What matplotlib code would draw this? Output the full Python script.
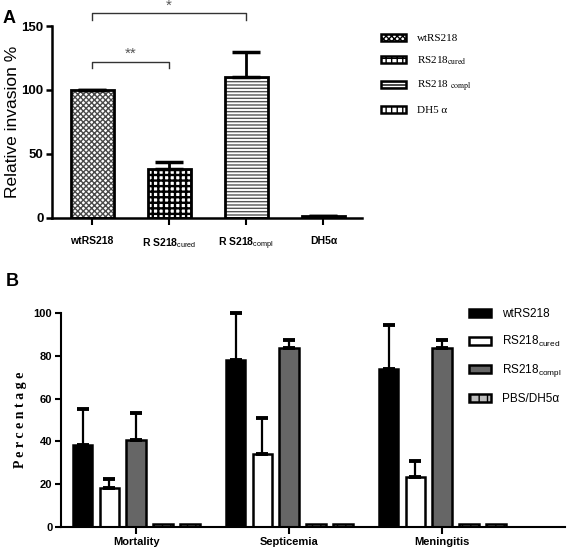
import matplotlib
matplotlib.use("Agg")
import matplotlib.pyplot as plt
import numpy as np
from matplotlib.patches import Patch
from matplotlib import font_manager as fm
from matplotlib.font_manager import FontProperties


def pick(*names):
    have = {f.name for f in fm.fontManager.ttflist}
    for n in names:
        if n in have:
            return n
    return "DejaVu Sans"


SANS = pick("Liberation Sans", "Arial")
SERIF = pick("Liberation Serif", "DejaVu Serif")

plt.rcParams["mathtext.fontset"] = "custom"
plt.rcParams["mathtext.rm"] = SANS
plt.rcParams["hatch.linewidth"] = 1.0

# ---- panel A data: relative invasion
a_labels = ["wtRS218", "R S218$_{\\mathrm{cured}}$", "R S218$_{\\mathrm{compl}}$", "DH5\u03b1"]
a_legend = ["wtRS218", "RS218$_{\\mathrm{cured}}$", "RS218 $_{\\mathrm{compl}}$", "DH5 \u03b1"]
a_values = [100, 38, 110, 1.5]
a_errors = [0, 5.5, 20, 0]
a_hatch = ["xxxxxx", "+++", "-----", "|||"]
a_hatch_color = ["#4a4a4a", "black", "#555555", "black"]
a_hatch_lw = [1.0, 1.7, 1.0, 1.0]
# significance brackets: (bar i, bar j, stars, level)
a_sig = [(0, 1, "**", 122), (0, 2, "*", 160)]

# ---- panel B data: disease outcomes (%)
b_groups = ["Mortality", "Septicemia", "Meningitis"]
b_series = ["wtRS218", "RS218$_{\\mathrm{cured}}$", "RS218$_{\\mathrm{compl}}$", "PBS/DH5\u03b1"]
b_wt = [38.3, 78.0, 73.7]
b_wt_err = [16.8, 21.8, 20.7]
b_cured = [18.4, 34.1, 23.5]
b_cured_err = [4.2, 16.8, 7.3]
b_compl = [40.5, 83.5, 83.5]
b_compl_err = [12.6, 3.9, 3.9]
b_pbs = [1.5, 1.5, 1.5]
b_dh5 = [1.5, 1.5, 1.5]
b_colors = ["black", "white", "#666666", "#bdbdbd", "#bdbdbd"]

fig = plt.figure(figsize=(5.67, 5.51), dpi=100)

# ================= Panel A =================
axA = fig.add_axes([0.0917, 0.6044, 0.5467, 0.3484])
xa = np.arange(len(a_values))
wa = 0.56
for i in range(len(a_values)):
    plt.rcParams["hatch.linewidth"] = a_hatch_lw[i]
    hb = axA.bar(xa[i], a_values[i], wa, color="white", edgecolor=a_hatch_color[i],
                 hatch=a_hatch[i], linewidth=0, zorder=2)
    for p in hb.patches:
        if hasattr(p, "set_hatch_linewidth"):
            p.set_hatch_linewidth(a_hatch_lw[i])
    axA.bar(xa[i], a_values[i], wa, fill=False, edgecolor="black",
            linewidth=2.0, zorder=3)
plt.rcParams["hatch.linewidth"] = 1.0
axA.errorbar(xa, a_values, yerr=[np.zeros(len(a_errors)), a_errors], fmt="none",
             ecolor="black", elinewidth=2.0, capsize=10, capthick=2.5, zorder=4)

for i, j, stars, lvl in a_sig:
    axA.plot([xa[i], xa[i], xa[j], xa[j]], [lvl - 5, lvl, lvl, lvl - 5],
             color="#333333", lw=1.0, clip_on=False)
    axA.text((xa[i] + xa[j]) / 2, lvl + 0.5, stars, ha="center", va="bottom",
             fontsize=11, color="#555555", family=SANS, clip_on=False)

axA.set_xlim(-0.52, 3.5)
axA.set_ylim(0, 150)
axA.set_yticks([0, 50, 100, 150])
axA.set_xticks(xa)
axA.set_xticklabels(a_labels, fontsize=7.5, fontweight="bold", family=SANS)
for lab in axA.get_yticklabels():
    lab.set_fontweight("bold")
    lab.set_fontsize(9.5)
    lab.set_family(SANS)
axA.tick_params(axis="y", length=4, width=1.8, pad=2)
axA.tick_params(axis="x", length=5, width=1.5, pad=8)
axA.set_ylabel("Relative invasion %", fontsize=12.5, family=SANS, labelpad=1)
for s in ["top", "right"]:
    axA.spines[s].set_visible(False)
for s in ["left", "bottom"]:
    axA.spines[s].set_linewidth(1.8)

handlesA = [Patch(facecolor="white", edgecolor="black", hatch=h, linewidth=1.8)
            for h in a_hatch]
legA = fig.legend(handlesA, a_legend, loc="upper left", bbox_to_anchor=(0.655, 0.957),
                  frameon=False, handlelength=2.2, handleheight=0.6, handletextpad=1.0,
                  labelspacing=1.05,
                  prop=FontProperties(family=SERIF, size=8, math_fontfamily="stix"))

fig.text(0.004, 0.982, "A", fontsize=13, fontweight="bold", family=SANS, va="top")

# ================= Panel B =================
axB = fig.add_axes([0.107, 0.0436, 0.8894, 0.3883])
gap = 5.71
centers = np.arange(len(b_groups)) * gap
wb = 0.73
b_vals = [b_wt, b_cured, b_compl, b_pbs, b_dh5]
b_errs = [b_wt_err, b_cured_err, b_compl_err, None, None]
b_hatches = [None, None, None, "||", "||"]
for k, (vals, errs) in enumerate(zip(b_vals, b_errs)):
    pos = centers + (k - 2)
    axB.bar(pos, vals, wb, color=b_colors[k], edgecolor="black", linewidth=1.8,
            hatch=b_hatches[k], zorder=2)
    if errs is not None:
        axB.errorbar(pos, vals, yerr=[np.zeros(len(errs)), errs], fmt="none",
                     ecolor="black", elinewidth=1.6, capsize=4.5, capthick=2.8,
                     zorder=3, clip_on=False)

axB.set_xlim(-2.82, 16.0)
axB.set_ylim(0, 100)
axB.set_yticks(np.arange(0, 101, 20))
axB.set_xticks(centers)
axB.set_xticklabels(b_groups, fontsize=8, fontweight="bold", family=SANS)
for lab in axB.get_yticklabels():
    lab.set_fontweight("bold")
    lab.set_fontsize(8)
    lab.set_family(SANS)
axB.tick_params(axis="y", length=4, width=1.5, pad=2)
axB.tick_params(axis="x", length=5, width=1.5, pad=2)
axB.set_ylabel("P e r c e n t a g e", fontsize=10, fontweight="bold",
               family=SERIF, labelpad=5)
for s in ["top", "right"]:
    axB.spines[s].set_visible(False)
for s in ["left", "bottom"]:
    axB.spines[s].set_linewidth(1.5)

handlesB = [Patch(facecolor=b_colors[k], edgecolor="black", hatch=b_hatches[k],
                  linewidth=1.8) for k in range(4)]
legB = fig.legend(handlesB, b_series, loc="upper left", bbox_to_anchor=(0.809, 0.46),
                  frameon=False, handlelength=1.86, handleheight=0.68, handletextpad=0.93,
                  labelspacing=1.15, prop=FontProperties(family=SANS, size=8.5))

fig.text(0.01, 0.505, "B", fontsize=13, fontweight="bold", family=SANS, va="top")

fig.savefig("out.png", dpi=100)
